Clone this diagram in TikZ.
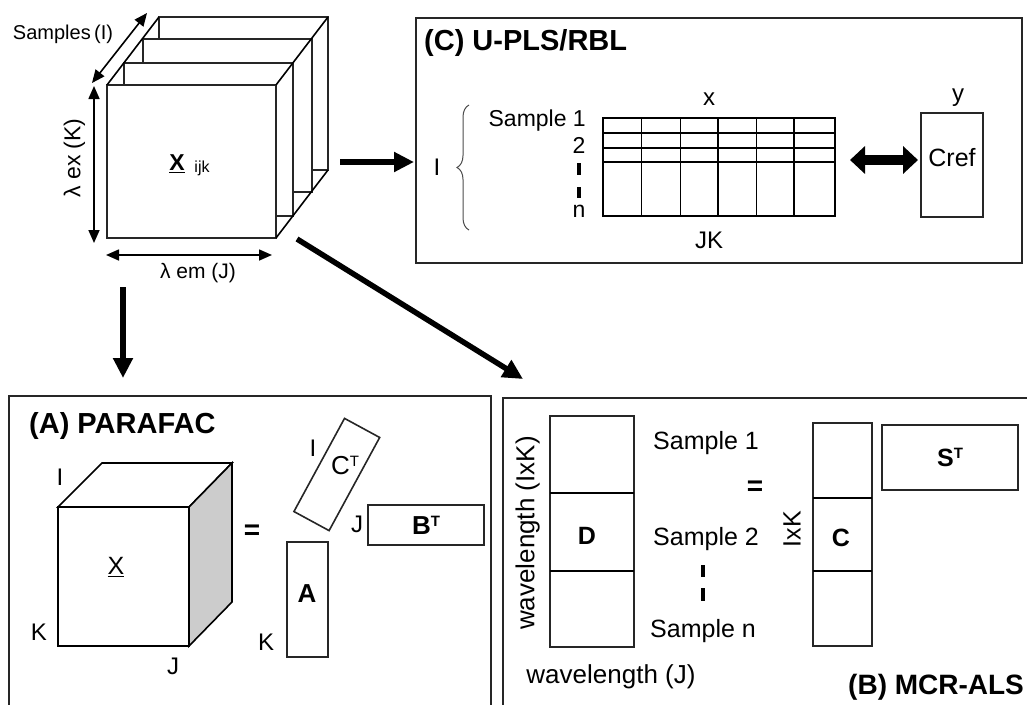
\documentclass[tikz,border=0pt]{standalone}
\usepackage{fontspec}
\setmainfont{Liberation Sans}
\usetikzlibrary{arrows.meta,decorations.pathreplacing}
\newcommand\fsz[1]{\fontsize{#1}{#1}\selectfont}
\newcommand\supT{\raisebox{0.6ex}{\fsz{15}T}}
\begin{document}
\begin{tikzpicture}[x=1pt,y=-1pt,
  frame/.style={draw=black!85, line width=1.8pt},
  mbox/.style={draw=black!85, line width=1.6pt, fill=white},
  txt/.style={inner sep=0pt, text depth=0pt},
  title/.style={txt, anchor=west, font=\bfseries\fsz{29}},
  dimarrow/.style={line width=1.6pt, {Triangle[width=11pt,length=13pt]}-{Triangle[width=11pt,length=13pt]}},
  bigarrow/.style={line width=5.5pt, -{Triangle[width=19pt,length=20pt]}},
  tick/.style={line width=3.5pt},
]
\useasboundingbox (0,0) rectangle (1027,704);
\clip (0,0) rectangle (1027,704);

% ---------- three-way data cube: slices from back to front ----------
\foreach \x/\y in {159/17,143/39,124/63,107/85}
  \draw[mbox] (\x,\y) rectangle ++(169,153);
\node[inner sep=0, minimum width=169, minimum height=153] (front) at (191.5,161.5) {};
\draw[line width=1.6pt] (107,85) -- (159,17);
\draw[line width=1.6pt] (276,85) -- (328,17);
\draw[line width=1.6pt] (276,238) -- (328,170);
\node[txt,font=\bfseries\fsz{23}] (xijk) at (177,163) {\underline{X}};
\node[txt,font=\fsz{16}] (ijk) at (202,167) {ijk};

% dimension arrows
\coordinate (sI0) at (92,83);  \coordinate (sI1) at (147,13);
\coordinate (sK0) at (94,86);  \coordinate (sK1) at (94,243);
\coordinate (sJ0) at (106,255); \coordinate (sJ1) at (272,255);
\draw[dimarrow] (sI0) -- (sI1);
\draw[dimarrow] (sK0) -- (sK1);
\draw[dimarrow] (sJ0) -- (sJ1);
\node[txt,font=\fsz{20}] (lblI) at (63,32) {Samples\,(I)};
\node[txt,font=\fsz{23},rotate=90] (lblK) at (72,158) {λ ex (K)};
\node[txt,font=\fsz{21}] (lblJ) at (198,271) {λ em (J)};

% ---------- (C) U-PLS/RBL ----------
\draw[frame] (416,18) rectangle (1022,263);
\node[title] (titC) at (424,40) {(C) U-PLS/RBL};
\node[inner sep=0, minimum width=232, minimum height=98] (xmat) at (719,167) {};
\draw[line width=1.6pt] (603,118) rectangle (835,216);
\foreach \x in {641.5,680.5,718,756.5,794} \draw[line width=1.6pt] (\x,118) -- (\x,216);
\foreach \y in {133,148,162} \draw[line width=1.6pt] (603,\y) -- (835,\y);
\node[txt,font=\fsz{24}] (xlab) at (709,99) {x};
\node[txt,font=\fsz{24}] (jklab) at (709,240) {JK};
\node[txt,anchor=east,font=\fsz{23}] (s1) at (586,118) {Sample 1};
\node[txt,font=\fsz{23}] (s2) at (579,145) {2};
\node[txt,font=\fsz{23}] (sn) at (579,211) {n};
\draw[tick] (579,163) -- (579,175);
\draw[tick] (579,187) -- (579,198);
\draw[draw=black!70, line width=1pt, decorate, decoration={brace, amplitude=12pt}] (469,230) -- (469,105);
\node[txt,font=\fsz{24}] (Ilab) at (437,167) {I};
\node[draw=black!85, line width=1.6pt, minimum width=62, minimum height=104, inner sep=0] (cref) at (952,165) {};
\node[txt,font=\fsz{25}] at (cref.center) [yshift=8] {Cref};
\node[txt,font=\fsz{24}] (ylab) at (958,95) {y};
\coordinate (dA) at (850,160); \coordinate (dB) at (918,160);
\draw[line width=10pt, {Triangle[width=27pt,length=15pt]}-{Triangle[width=27pt,length=15pt]}] (dA) -- (dB);

% ---------- (A) PARAFAC ----------
\draw[frame] (9,720) -- (9,396) -- (491,396) -- (491,720);
\node[title] (titA) at (29,423) {(A) PARAFAC};
\draw[line width=1.6pt, fill=white] (58,507) -- (102,463) -- (232,463) -- (189,507) -- cycle;
\draw[line width=1.6pt, fill=gray!40] (189,507) -- (232,463) -- (232,602) -- (189,646) -- cycle;
\draw[line width=1.6pt, fill=white] (58,507) rectangle (189,646);
\node[txt,font=\fsz{25}] (Xa) at (116,566) {\underline{X}};
\node[txt,font=\fsz{24}] (Ia) at (60,477) {I};
\node[txt,font=\fsz{24}] (Ka) at (39,632) {K};
\node[txt,font=\fsz{24}] (Ja) at (173,666) {J};
\node[txt,font=\bfseries\fsz{28}] (eqA) at (252,532) {=};
\node[draw=black!85, line width=1.6pt, minimum width=40, minimum height=106, inner sep=0, rotate=-28.5] (ct) at (336.8,474.5) {};
\node[txt,font=\fsz{26}] at (345,465) {C\supT};
\node[txt,font=\fsz{24}] (Ic) at (313,448) {I};
\node[draw=black!85, line width=1.6pt, minimum width=116, minimum height=40, inner sep=0] (bt) at (426,525) {};
\node[txt,font=\bfseries\fsz{26}] at (bt.center) {B\supT};
\node[txt,font=\fsz{24}] (Jb) at (357,524) {J};
\node[draw=black!85, line width=1.6pt, minimum width=41, minimum height=115, inner sep=0] (amat) at (307.5,599.5) {};
\node[txt,font=\bfseries\fsz{26}] at (307,594) {A};
\node[txt,font=\fsz{24}] (Kb) at (266,642) {K};

% ---------- (B) MCR-ALS ----------
\draw[frame] (503,720) -- (503,398) -- (1040,398);
\node[draw=black!85, line width=1.6pt, minimum width=84, minimum height=231, inner sep=0] (dmat) at (592,531.5) {};
\draw[line width=1.6pt] (550,493) -- (634,493);
\draw[line width=1.6pt] (550,571) -- (634,571);
\node[txt,font=\bfseries\fsz{25}] at (587,536) {D};
\node[txt,font=\fsz{26},rotate=90] (wlK) at (525,533) {wavelength (IxK)};
\node[txt,font=\fsz{26}] (wlJ) at (611,674) {wavelength (J)};
\node[txt,font=\fsz{25}] (b1) at (706,440) {Sample 1};
\node[txt,font=\fsz{25}] (b2) at (706,536) {Sample 2};
\node[txt,font=\fsz{25}] (bn) at (703,628) {Sample n};
\draw[tick, line width=4pt] (703,565) -- (703,577);
\draw[tick, line width=4pt] (703,588) -- (703,601);
\node[txt,font=\bfseries\fsz{28}] (eqB) at (755,488) {=};
\node[txt,font=\fsz{25},rotate=90] (ixk) at (792,529) {IxK};
\node[draw=black!85, line width=1.6pt, minimum width=59, minimum height=223, inner sep=0] (cmat) at (842.5,534.5) {};
\draw[line width=1.6pt] (813,498) -- (872,498);
\draw[line width=1.6pt] (813,571) -- (872,571);
\node[txt,font=\bfseries\fsz{25}] at (841,538) {C};
\node[draw=black!85, line width=1.6pt, minimum width=136, minimum height=65, inner sep=0] (st) at (950,457.5) {};
\node[txt,font=\bfseries\fsz{25}] at (st.center) {S\supT};
\node[title, font=\bfseries\fsz{28}] (titB) at (848,684) {(B) MCR-ALS};

% ---------- arrows from the cube to the three methods ----------
\coordinate (toC0) at (340,162); \coordinate (toC1) at (414,162);
\coordinate (toA0) at (123,287); \coordinate (toA1) at (123,378);
\coordinate (toB0) at (297,239); \coordinate (toB1) at (523,379);
\draw[bigarrow] (toC0) -- (toC1);
\draw[bigarrow] (toA0) -- (toA1);
\draw[bigarrow] (toB0) -- (toB1);
\end{tikzpicture}
\end{document}
